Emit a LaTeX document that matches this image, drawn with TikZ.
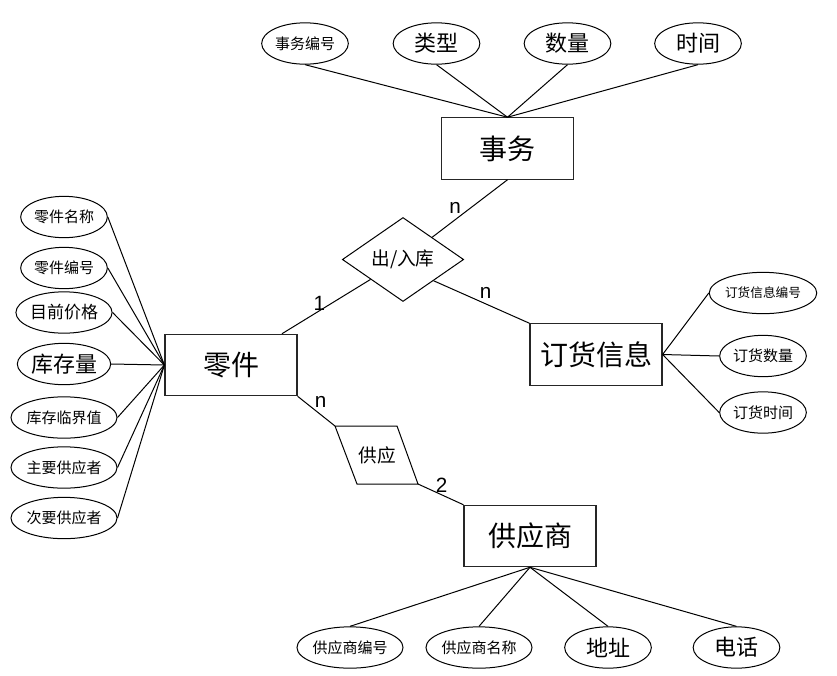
\documentclass[tikz,border=0pt]{standalone}
\usepackage{fontspec}
\setmainfont{Liberation Sans}
\newfontfamily\cjk{Noto Sans CJK SC}
\usetikzlibrary{shapes.geometric}
\newcommand{\erbig}{\cjk\fontsize{21}{24}\selectfont}
\newcommand{\ermid}{\cjk\fontsize{16.5}{19}\selectfont}
\newcommand{\errel}{\cjk\fontsize{14}{16}\selectfont}
\newcommand{\erprice}{\cjk\fontsize{12.75}{15}\selectfont}
\newcommand{\ersmall}{\cjk\fontsize{11.25}{13}\selectfont}
\newcommand{\ertiny}{\cjk\fontsize{9.5}{11}\selectfont}
\tikzset{
  entity/.style={draw=black!85, line width=0.9pt, minimum width=99pt, minimum height=46pt, inner sep=0pt, font=\erbig},
  attr/.style={draw, ellipse, line width=0.75pt, minimum width=65pt, minimum height=31pt, inner sep=0pt, font=#1},
  attr/.default=\ersmall,
  rel/.style={draw, diamond, line width=0.75pt, minimum width=91pt, minimum height=63pt, inner sep=0pt, font=\errel},
  relbox/.style={draw, line width=0.75pt},
  link/.style={line width=0.75pt},
  card/.style={font=\fontsize{15.5}{18}\selectfont, inner sep=0pt},
}
\def\xL{64}
\def\xR{763}
\def\yT{43.5}
\def\yB{647.5}

\begin{document}
\begin{tikzpicture}[x=0.75pt,y=-0.75pt]
  \useasboundingbox (0,0) rectangle (837,675);
  % entities
  \node[entity] (affair) at (507.5,148.5) {事务};
  \node[entity] (part) at (231,365) {零件};
  \node[entity] (order) at (596,354.5) {订货信息};
  \node[entity] (supplier) at (530,536) {供应商};
  % relationships
  \node[rel] (io) at (403,259.5) {出/入库};
  \coordinate (gyA) at (335,426); \coordinate (gyB) at (397,426);
  \coordinate (gyC) at (418,484); \coordinate (gyD) at (357,484);
  \draw[relbox] (gyA) -- (gyB) -- (gyC) -- (gyD) -- cycle;
  \node[font=\errel] (supply) at (377,455) {供应};
  % attributes of 事务
  \node[attr=\ersmall] (afid) at (305,\yT) {事务编号};
  \node[attr=\ermid] (aftype) at (436.5,\yT) {类型};
  \node[attr=\ermid] (afqty) at (567.5,\yT) {数量};
  \node[attr=\ermid] (aftime) at (698,\yT) {时间};
  % attributes of 零件
  \node[attr=\ersmall] (ptname) at (\xL,217) {零件名称};
  \node[attr=\ersmall] (ptid) at (\xL,268) {零件编号};
  \node[attr=\erprice] (ptprice) at (\xL,312.5) {目前价格};
  \node[attr=\ermid] (ptstock) at (\xL,364) {库存量};
  \node[attr=\ersmall] (ptlimit) at (\xL,417.5) {库存临界值};
  \node[attr=\ersmall] (ptmain) at (\xL,467.5) {主要供应者};
  \node[attr=\ersmall] (ptsub) at (\xL,518) {次要供应者};
  % attributes of 订货信息
  \node[attr=\ertiny] (odid) at (\xR,293) {订货信息编号};
  \node[attr=\ersmall] (odqty) at (\xR,356) {订货数量};
  \node[attr=\ersmall] (odtime) at (\xR,412.5) {订货时间};
  % attributes of 供应商
  \node[attr=\ersmall] (spid) at (350,\yB) {供应商编号};
  \node[attr=\ersmall] (spname) at (479,\yB) {供应商名称};
  \node[attr=\ermid] (spaddr) at (608,\yB) {地址};
  \node[attr=\ermid] (sptel) at (736.5,\yB) {电话};
  % attribute links
  \draw[link] (afid.south) -- (affair.north); \draw[link] (aftype.south) -- (affair.north);
  \draw[link] (afqty.south) -- (affair.north); \draw[link] (aftime.south) -- (affair.north);
  \draw[link] (ptname.east) -- (part.west); \draw[link] (ptid.east) -- (part.west);
  \draw[link] (ptprice.east) -- (part.west); \draw[link] (ptstock.east) -- (part.west);
  \draw[link] (ptlimit.east) -- (part.west); \draw[link] (ptmain.east) -- (part.west);
  \draw[link] (ptsub.east) -- (part.west);
  \draw[link] (order.east) -- (odid.west); \draw[link] (order.east) -- (odqty.west);
  \draw[link] (order.east) -- (odtime.west);
  \draw[link] (spid.north) -- (supplier.south); \draw[link] (spname.north) -- (supplier.south);
  \draw[link] (spaddr.north) -- (supplier.south); \draw[link] (sptel.north) -- (supplier.south);
  % relationship links
  \draw[link] (affair.south) -- (io);
  \draw[link] (io) -- (part);
  \draw[link] (io.south east) -- (order.north west);
  \draw[link] (part.south east) -- (gyA);
  \draw[link] (gyC) -- (supplier.north west);
  % cardinalities
  \node[card] (c1) at (455,208) {n};
  \node[card] (c2) at (485.7,293.3) {n};
  \node[card] (c3) at (319.3,303.3) {1};
  \node[card] (c4) at (320.7,401.7) {n};
  \node[card] (c5) at (441.7,485) {2};
\end{tikzpicture}
\end{document}
